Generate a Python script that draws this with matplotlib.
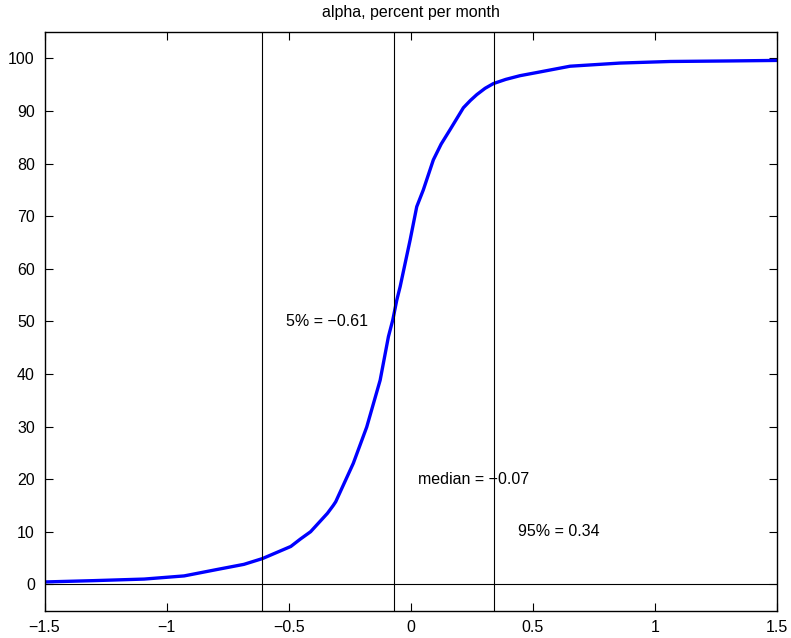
import numpy as np
import matplotlib
matplotlib.use('Agg')
import matplotlib.pyplot as plt

plt.rcParams['font.family'] = ['Liberation Sans', 'DejaVu Sans']

# cumulative distribution of alpha
alpha = [-1.5, -1.3, -1.092, -0.928, -0.79, -0.683, -0.607, -0.491, -0.452,
         -0.41, -0.341, -0.317, -0.307, -0.235, -0.18, -0.125, -0.091, -0.073,
         -0.057, -0.043, -0.002, 0.025, 0.052, 0.093, 0.125, 0.161, 0.216,
         0.245, 0.271, 0.305, 0.339, 0.39, 0.448, 0.517, 0.653, 0.858, 1.063,
         1.3, 1.5]
cum_pct = [0.45, 0.7, 1.0, 1.6, 2.85, 3.8, 4.9, 7.2, 8.6,
           10.0, 13.5, 15.0, 15.7, 23.0, 29.9, 38.8, 47.1, 50.3,
           54.0, 56.6, 65.5, 71.8, 75.0, 80.7, 83.7, 86.4, 90.6,
           92.0, 93.1, 94.3, 95.2, 96.0, 96.7, 97.3, 98.5, 99.1, 99.4,
           99.5, 99.6]

# percentiles
p5 = -0.61
med = -0.07
p95 = 0.34

fig = plt.figure(figsize=(7.91, 6.38), dpi=100)
ax = fig.add_axes([0.0563, 0.0429, 0.9257, 0.9069])

ax.plot(alpha, cum_pct, color='blue', lw=2.4)
for v in [p5, med, p95]:
    ax.axvline(v, color='black', lw=0.8)
ax.axhline(0, color='black', lw=0.8)

fs = 11.5
ax.text(p5 + 0.1, 50, '5% = \u22120.61', fontsize=fs, va='center')
ax.text(med + 0.1, 20, 'median = \u22120.07', fontsize=fs, va='center')
ax.text(p95 + 0.1, 10, '95% = 0.34', fontsize=fs, va='center')

ax.set_xlim(-1.5, 1.5)
ax.set_ylim(-5, 105)
ax.set_xticks([-1.5, -1, -0.5, 0, 0.5, 1, 1.5])
ax.set_xticklabels(['\u22121.5', '\u22121', '\u22120.5', '0', '0.5', '1', '1.5'])
ax.set_yticks(np.arange(0, 101, 10))
ax.tick_params(direction='in', top=True, right=True, length=6, labelsize=fs,
               width=0.8, pad=7)
for s in ax.spines.values():
    s.set_linewidth(1.0)
ax.set_title('alpha, percent per month', fontsize=fs, pad=11)

plt.savefig('out.png', dpi=100)
